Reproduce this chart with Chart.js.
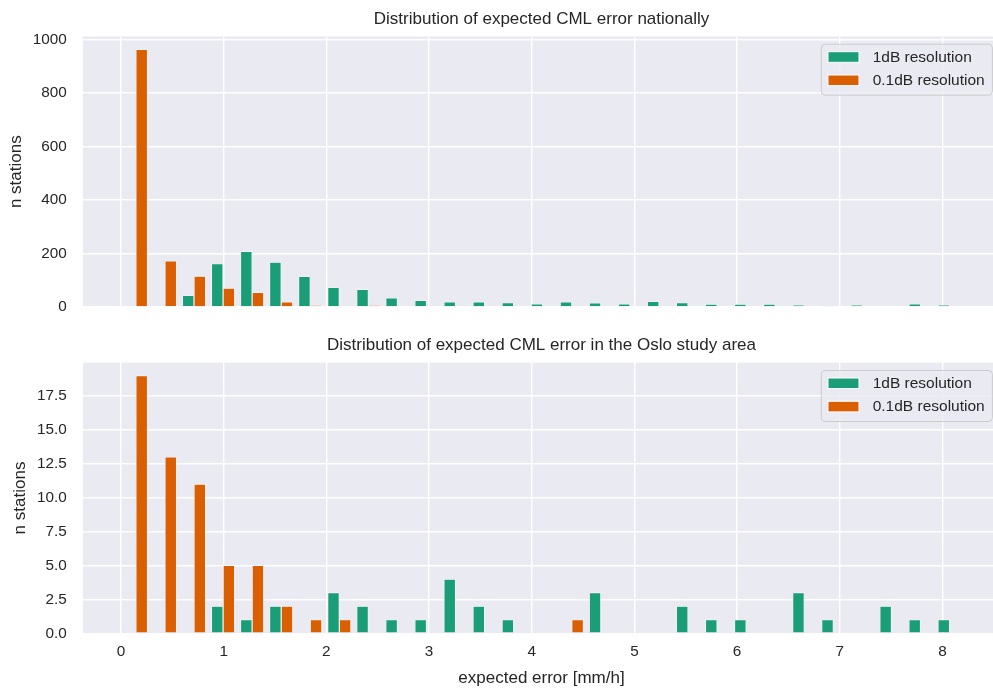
<!DOCTYPE html>
<html>
<head>
<meta charset="utf-8">
<title>Distribution of expected CML error</title>
<script src="https://cdn.jsdelivr.net/npm/chart.js@4.4.1/dist/chart.umd.min.js"></script>
<style>
  html, body { margin: 0; padding: 0; background: #ffffff; overflow: hidden; }
  .panel { position: absolute; left: 0; width: 1000px; }
  #topPanel { top: 0; height: 333px; }
  #bottomPanel { top: 330px; height: 359px; }
</style>
</head>
<body>
<div class="panel" id="topPanel"><canvas id="chartTop"></canvas></div>
<div class="panel" id="bottomPanel"><canvas id="chartBottom"></canvas></div>
<script>
// histogram bin centres, expected error [mm/h]
const binCenters = [
  0.145, 0.428, 0.711, 0.994, 1.277, 1.560, 1.843, 2.126, 2.409, 2.692,
  2.975, 3.258, 3.541, 3.824, 4.107, 4.390, 4.673, 4.956, 5.239, 5.522,
  5.805, 6.088, 6.371, 6.654, 6.937, 7.220, 7.503, 7.786, 8.069
];

// number of stations per bin, whole country
const national1dB = [
  0, 0, 43, 162, 208, 168, 114, 73, 66, 34,
  25, 19, 19, 16, 12, 19, 15, 12, 21, 16,
  11, 11, 11, 8, 4, 8, 3, 12, 8
];
const national01dB = [
  962, 172, 115, 70, 55, 19, 7, 0, 7, 0,
  0, 0, 0, 0, 0, 0, 0, 0, 0, 0,
  0, 0, 0, 0, 0, 0, 0, 0, 0
];

// number of stations per bin, Oslo study area
const oslo1dB = [
  0, 0, 0, 2, 1, 2, 0, 3, 2, 1,
  1, 4, 2, 1, 0, 0, 3, 0, 0, 2,
  1, 1, 0, 3, 1, 0, 2, 1, 1
];
const oslo01dB = [
  19, 13, 11, 5, 5, 2, 1, 1, 0, 0,
  0, 0, 0, 0, 0, 1, 0, 0, 0, 0,
  0, 0, 0, 0, 0, 0, 0, 0, 0
];

// tick labels
const xTicks = [0, 1, 2, 3, 4, 5, 6, 7, 8];
const topYTicks = [0, 200, 400, 600, 800, 1000];
const bottomYTicks = [0, 2.5, 5, 7.5, 10, 12.5, 15, 17.5];

const seriesLabels = ['1dB resolution', '0.1dB resolution'];
const seriesColors = ['#1b9e77', '#d95f02'];

const FONT = '"Liberation Sans", Arial, sans-serif';
const TEXT = '#262626';
Chart.defaults.font.family = FONT;
Chart.defaults.color = TEXT;

// grey plotting area like seaborn darkgrid
const areaBackground = {
  id: 'areaBackground',
  beforeDraw(chart) {
    const { ctx, chartArea: a } = chart;
    ctx.save();
    ctx.fillStyle = '#eaeaf2';
    ctx.fillRect(a.left, a.top, a.right - a.left, a.bottom - a.top);
    ctx.restore();
  }
};

// legend drawn inside the axes, upper right
const insideLegend = {
  id: 'insideLegend',
  afterDatasetsDraw(chart) {
    const { ctx, chartArea: a } = chart;
    const sets = chart.data.datasets;
    ctx.save();
    ctx.font = '15.5px ' + FONT;
    const textW = Math.max(...sets.map(d => ctx.measureText(d.label).width));
    const w = 6.7 + 31 + 13.7 + textW + 7.7;
    const h = 51;
    const x = a.right - 7.6 - w;
    const y = a.top + 7.8;
    ctx.beginPath();
    ctx.roundRect(x, y, w, h, 4);
    ctx.fillStyle = 'rgba(234,234,242,0.8)';
    ctx.fill();
    ctx.strokeStyle = '#cccccc';
    ctx.lineWidth = 1;
    ctx.stroke();
    sets.forEach((d, i) => {
      const cy = y + 12.8 + i * 23.3;
      ctx.fillStyle = d.backgroundColor;
      ctx.fillRect(x + 6.7, cy - 5.3, 31, 10.6);
      ctx.strokeStyle = '#ffffff';
      ctx.strokeRect(x + 6.7, cy - 5.3, 31, 10.6);
      ctx.fillStyle = TEXT;
      ctx.textBaseline = 'middle';
      ctx.textAlign = 'left';
      ctx.fillText(d.label, x + 6.7 + 31 + 13.7, cy + 0.5);
    });
    ctx.restore();
  }
};

function makeDatasets(values) {
  return values.map((vals, i) => ({
    label: seriesLabels[i],
    data: binCenters.map((c, k) => ({ x: c, y: vals[k] })),
    backgroundColor: seriesColors[i],
    borderColor: '#ffffff',
    borderWidth: 0.6,
    categoryPercentage: 0.8,
    barPercentage: 1.0
  }));
}

function makeChart(id, cfg) {
  return new Chart(id, {
    type: 'bar',
    data: { datasets: makeDatasets(cfg.values) },
    options: {
      responsive: true,
      maintainAspectRatio: false,
      animation: false,
      layout: { padding: 0 },
      plugins: {
        legend: { display: false },
        tooltip: { enabled: false },
        title: {
          display: true,
          text: cfg.title,
          fullSize: false,
          color: TEXT,
          font: { size: 17, weight: 'normal', lineHeight: 1.2 },
          padding: cfg.titlePadding
        }
      },
      scales: {
        x: {
          type: 'linear',
          min: -0.37,
          max: 8.56,
          offset: false,
          afterBuildTicks: s => { s.ticks = xTicks.map(v => ({ value: v })); },
          afterFit: s => { s.height = cfg.xHeight; },
          grid: { color: '#ffffff', lineWidth: 1.4, drawTicks: false, offset: false },
          border: { display: false },
          ticks: {
            display: cfg.showX,
            padding: 9.2,
            color: TEXT,
            font: { size: 15.3 },
            callback: v => String(v)
          },
          title: {
            display: cfg.showX,
            text: 'expected error [mm/h]',
            color: TEXT,
            font: { size: 17, lineHeight: 1.2 },
            padding: { top: 0, bottom: 0.5 }
          }
        },
        y: {
          min: 0,
          max: cfg.yMax,
          afterBuildTicks: s => { s.ticks = cfg.yTicks.map(v => ({ value: v })); },
          afterFit: s => { s.width = 83; },
          grid: { color: '#ffffff', lineWidth: 1.4, drawTicks: false },
          border: { display: false },
          ticks: {
            padding: 16.3,
            color: TEXT,
            font: { size: 15.3 },
            callback: cfg.yFormat
          },
          title: {
            display: true,
            text: 'n stations',
            color: TEXT,
            font: { size: 17, lineHeight: 1.2 },
            padding: { top: cfg.yTitlePad, bottom: 0 }
          }
        }
      }
    },
    plugins: [areaBackground, insideLegend]
  });
}

makeChart('chartTop', {
  title: 'Distribution of expected CML error nationally',
  values: [national1dB, national01dB],
  titlePadding: { top: 9.5, bottom: 6.5 },
  xHeight: 26,
  showX: false,
  yMax: 1011,
  yTicks: topYTicks,
  yFormat: v => String(v),
  yTitlePad: 5.8
});

makeChart('chartBottom', {
  title: 'Distribution of expected CML error in the Oslo study area',
  values: [oslo1dB, oslo01dB],
  titlePadding: { top: 5.5, bottom: 6.8 },
  xHeight: 55.7,
  showX: true,
  yMax: 19.95,
  yTicks: bottomYTicks,
  yFormat: v => v.toFixed(1),
  yTitlePad: 9.8
});
</script>
</body>
</html>
